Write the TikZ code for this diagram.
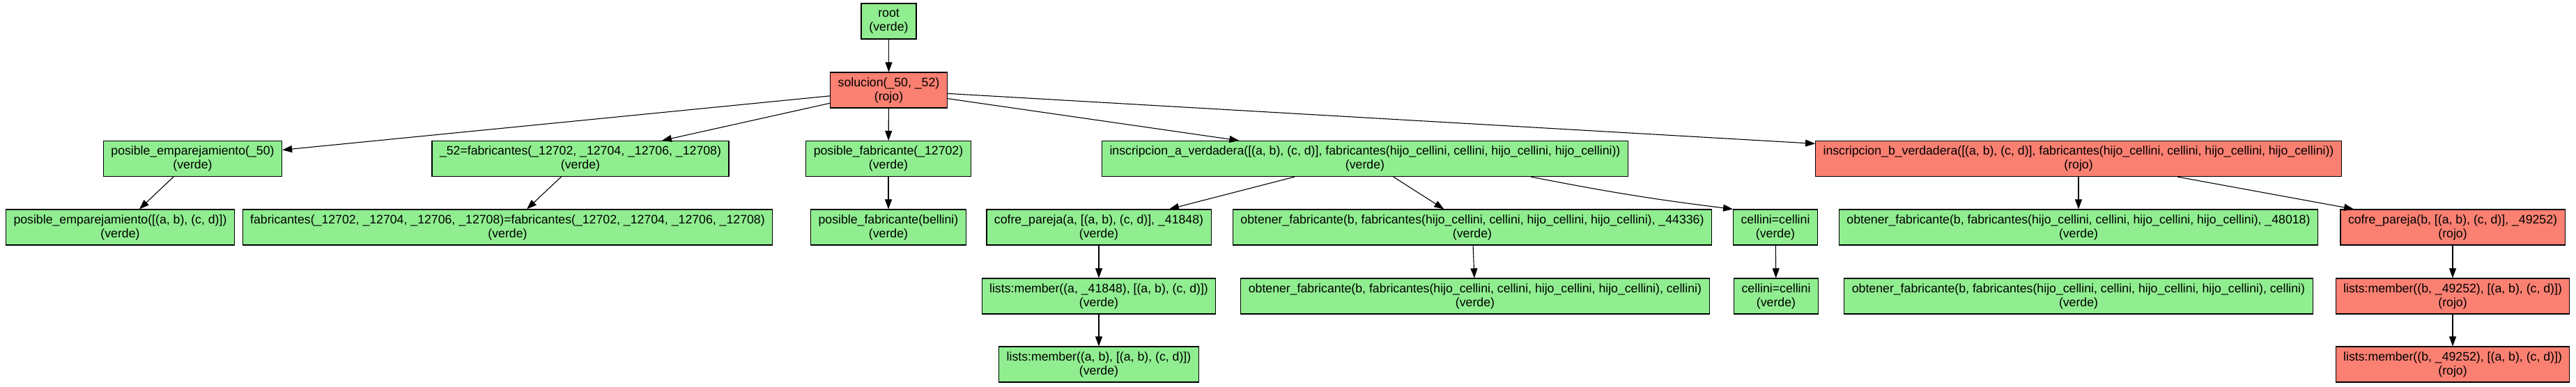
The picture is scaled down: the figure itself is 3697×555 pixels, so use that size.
\documentclass[tikz,border=0pt]{standalone}
\usepackage{fontspec}
\setmainfont{Liberation Sans}
\usepackage{xcolor}
\usepackage{tikz}
\usetikzlibrary{arrows.meta}
\definecolor{gvverde}{HTML}{90EE90}
\definecolor{gvrojo}{HTML}{FA8072}
\tikzset{
  goal/.style={draw=black,line width=1.1pt,minimum width=79pt,minimum height=51pt,
    inner xsep=11pt,inner ysep=2pt,align=center,font=\fontsize{17.7}{20}\selectfont},
  gverde/.style={goal,fill=gvverde},
  grojo/.style={goal,fill=gvrojo},
  flow/.style={-{Triangle[length=14pt,width=10pt]},line width=1.1pt,draw=black}
}
\begin{document}
\begin{tikzpicture}[x=1pt,y=-1pt]
    \useasboundingbox (0,0) rectangle (3697,555);
    \node[gverde] (root) at (1275.5,30.5) {root\\(verde)};
    \node[grojo] (sol) at (1275.5,129.5) {solucion(\_50, \_52)\\(rojo)};
    % hijos de solucion
    \node[gverde] (pe50) at (276.5,228) {posible\_emparejamiento(\_50)\\(verde)};
    \node[gverde] (fab52) at (833,228) {\_52=fabricantes(\_12702, \_12704, \_12706, \_12708)\\(verde)};
    \node[gverde] (pf) at (1275,228) {posible\_fabricante(\_12702)\\(verde)};
    \node[gverde] (insa) at (1959,228) {inscripcion\_a\_verdadera([(a, b), (c, d)], fabricantes(hijo\_cellini, cellini, hijo\_cellini, hijo\_cellini))\\(verde)};
    \node[grojo] (insb) at (2983,228) {inscripcion\_b\_verdadera([(a, b), (c, d)], fabricantes(hijo\_cellini, cellini, hijo\_cellini, hijo\_cellini))\\(rojo)};
    % nivel 3
    \node[gverde] (pe) at (172.5,326.5) {posible\_emparejamiento([(a, b), (c, d)])\\(verde)};
    \node[gverde] (fabeq) at (728.5,326.5) {fabricantes(\_12702, \_12704, \_12706, \_12708)=fabricantes(\_12702, \_12704, \_12706, \_12708)\\(verde)};
    \node[gverde] (pfb) at (1275,326.5) {posible\_fabricante(bellini)\\(verde)};
    \node[gverde] (cpa) at (1577,326.5) {cofre\_pareja(a, [(a, b), (c, d)], \_41848)\\(verde)};
    \node[gverde] (oba) at (2113,326.5) {obtener\_fabricante(b, fabricantes(hijo\_cellini, cellini, hijo\_cellini, hijo\_cellini), \_44336)\\(verde)};
    \node[gverde] (cel) at (2548,326.5) {cellini=cellini\\(verde)};
    \node[gverde] (obb) at (2983,326.5) {obtener\_fabricante(b, fabricantes(hijo\_cellini, cellini, hijo\_cellini, hijo\_cellini), \_48018)\\(verde)};
    \node[grojo] (cpb) at (3520,326.5) {cofre\_pareja(b, [(a, b), (c, d)], \_49252)\\(rojo)};
    % nivel 4
    \node[gverde] (lma) at (1577,425.5) {lists:member((a, \_41848), [(a, b), (c, d)])\\(verde)};
    \node[gverde] (obac) at (2117,425.5) {obtener\_fabricante(b, fabricantes(hijo\_cellini, cellini, hijo\_cellini, hijo\_cellini), cellini)\\(verde)};
    \node[gverde] (celb) at (2549,425.5) {cellini=cellini\\(verde)};
    \node[gverde] (obbc) at (2983,425.5) {obtener\_fabricante(b, fabricantes(hijo\_cellini, cellini, hijo\_cellini, hijo\_cellini), cellini)\\(verde)};
    \node[grojo] (lmb) at (3520,425.5) {lists:member((b, \_49252), [(a, b), (c, d)])\\(rojo)};
    % nivel 5
    \node[gverde] (lmab) at (1577,523.5) {lists:member((a, b), [(a, b), (c, d)])\\(verde)};
    \node[grojo] (lmbb) at (3520,523.5) {lists:member((b, \_49252), [(a, b), (c, d)])\\(rojo)};
    \draw[flow] (root)--(sol);
    \draw[flow] (sol)--(pe50);
    \draw[flow] (sol)--(fab52);
    \draw[flow] (sol)--(pf);
    \draw[flow] (sol)--(insa);
    \draw[flow] (sol)--(insb);
    \draw[flow] (pe50)--(pe);
    \draw[flow] (fab52)--(fabeq);
    \draw[flow] (pf)--(pfb);
    \draw[flow] (insa)--(cpa);
    \draw[flow] (insa)--(oba);
    \draw[flow] ([xshift=238pt]insa.south) to[bend right=2] (cel.north west);
    \draw[flow] (insb)--(obb);
    \draw[flow] (insb)--(cpb);
    \draw[flow] (cpa)--(lma);
    \draw[flow] (oba)--(obac);
    \draw[flow] (cel)--(celb);
    \draw[flow] (cpb)--(lmb);
    \draw[flow] (lma)--(lmab);
    \draw[flow] (lmb)--(lmbb);
\end{tikzpicture}
\end{document}
